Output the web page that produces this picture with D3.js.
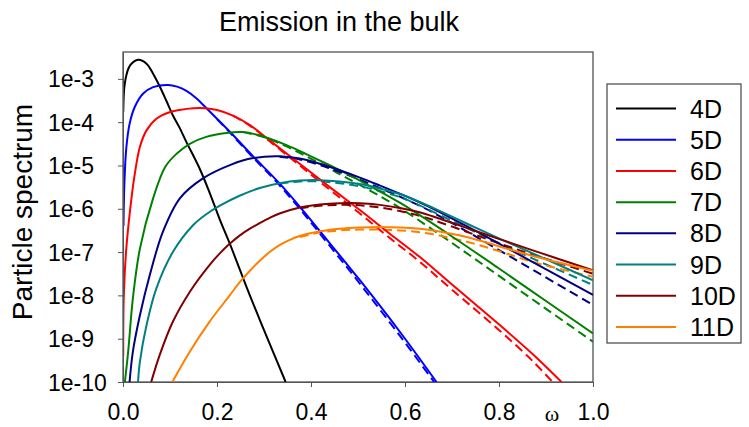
<!DOCTYPE html>
<html>
<head>
<meta charset="utf-8">
<title>Emission in the bulk</title>
<script src="https://d3js.org/d3.v7.min.js"></script>
<style>
  body { margin: 0; background: #fff; }
  text { font-family: "Liberation Sans", Arial, sans-serif; fill: #000; }
  .axis path, .axis line { stroke: #555; }
</style>
</head>
<body>
<svg id="chart" width="749" height="427"></svg>
<script>
// legend names and colours
var dims = ["4D", "5D", "6D", "7D", "8D", "9D", "10D", "11D"];
var colors = ["#000000", "#0000ff", "#ff0000", "#008000", "#000080", "#008080", "#800000", "#ff8000"];

var xTicks = [0, 0.2, 0.4, 0.6, 0.8, 1.0];
var xTickLabels = ["0.0", "0.2", "0.4", "0.6", "0.8", "1.0"];
var yTicks = [1e-10, 1e-9, 1e-8, 1e-7, 1e-6, 1e-5, 1e-4, 1e-3];
var yTickLabels = ["1e-10", "1e-9", "1e-8", "1e-7", "1e-6", "1e-5", "1e-4", "1e-3"];

// omega values and log10(spectrum), solid curves
var w4 = [0.0005, 0.002, 0.004, 0.007, 0.012, 0.018, 0.033, 0.05, 0.064, 0.078, 0.092, 0.106, 0.12, 0.135, 0.163, 0.184, 0.206, 0.227, 0.268, 0.30, 0.346];
var s4 = [-3.77, -3.30, -3.10, -2.92, -2.75, -2.65, -2.56, -2.65, -2.88, -3.17, -3.50, -3.84, -4.12, -4.46, -5.07, -5.62, -6.25, -6.80, -7.95, -8.80, -10];

var w5 = [0.001, 0.003, 0.007, 0.014, 0.025, 0.043, 0.064, 0.096, 0.115, 0.135, 0.156, 0.176, 0.20, 0.23, 0.277, 0.33, 0.38, 0.429, 0.475, 0.504, 0.589, 0.667];
var s5 = [-6.40, -5.40, -4.60, -4.04, -3.65, -3.34, -3.19, -3.14, -3.18, -3.28, -3.45, -3.66, -3.92, -4.25, -4.79, -5.38, -6.00, -6.65, -7.26, -7.65, -8.84, -10];

var w6 = [0.0005, 0.0015, 0.007, 0.018, 0.025, 0.036, 0.05, 0.071, 0.099, 0.12, 0.15, 0.175, 0.20, 0.234, 0.27, 0.312, 0.376, 0.44, 0.504, 0.567, 0.631, 0.70, 0.801, 0.872, 0.933];
var s6 = [-9.40, -8.07, -6.92, -5.76, -5.20, -4.57, -4.19, -3.92, -3.77, -3.72, -3.68, -3.68, -3.72, -3.85, -4.07, -4.42, -4.96, -5.50, -6.03, -6.57, -7.11, -7.75, -8.68, -9.36, -10];

var w7 = [0.004, 0.011, 0.021, 0.036, 0.064, 0.09, 0.114, 0.142, 0.177, 0.22, 0.255, 0.298, 0.348, 0.39, 0.433, 0.461, 0.504, 0.589, 0.70, 0.80, 0.90, 1.0];
var s7 = [-10, -9.30, -8.07, -6.92, -5.76, -5.03, -4.73, -4.50, -4.34, -4.25, -4.23, -4.33, -4.53, -4.74, -4.96, -5.11, -5.35, -5.86, -6.64, -7.38, -8.13, -8.88];

var w8 = [0.014, 0.021, 0.036, 0.057, 0.085, 0.121, 0.17, 0.23, 0.277, 0.333, 0.376, 0.419, 0.461, 0.504, 0.546, 0.589, 0.631, 0.66, 0.731, 0.801, 0.872, 1.0];
var s8 = [-10, -9.30, -8.46, -7.53, -6.53, -5.76, -5.30, -4.98, -4.83, -4.79, -4.84, -4.96, -5.11, -5.28, -5.46, -5.65, -5.85, -6.00, -6.40, -6.81, -7.23, -7.99];

var w9 = [0.032, 0.036, 0.05, 0.071, 0.106, 0.149, 0.178, 0.206, 0.248, 0.291, 0.333, 0.376, 0.419, 0.461, 0.504, 0.546, 0.589, 0.631, 0.66, 0.731, 0.801, 0.872, 1.0];
var s9 = [-10, -9.53, -8.69, -7.84, -7.00, -6.38, -6.12, -5.93, -5.70, -5.52, -5.41, -5.35, -5.34, -5.37, -5.43, -5.53, -5.66, -5.84, -5.98, -6.34, -6.69, -7.03, -7.65];

var w10 = [0.06, 0.078, 0.106, 0.142, 0.184, 0.206, 0.227, 0.248, 0.27, 0.291, 0.312, 0.333, 0.376, 0.419, 0.461, 0.504, 0.546, 0.589, 0.631, 0.66, 0.731, 0.801, 0.872, 1.0];
var s10 = [-10, -9.38, -8.61, -7.92, -7.30, -7.03, -6.81, -6.62, -6.46, -6.33, -6.21, -6.11, -5.97, -5.90, -5.87, -5.87, -5.91, -5.98, -6.08, -6.18, -6.44, -6.70, -6.96, -7.42];

var w11 = [0.105, 0.142, 0.184, 0.227, 0.248, 0.27, 0.291, 0.312, 0.333, 0.355, 0.376, 0.419, 0.461, 0.504, 0.546, 0.589, 0.631, 0.66, 0.731, 0.801, 0.872, 1.0];
var s11 = [-10, -9.30, -8.61, -8.00, -7.70, -7.43, -7.20, -7.00, -6.84, -6.72, -6.63, -6.52, -6.46, -6.43, -6.42, -6.43, -6.46, -6.50, -6.65, -6.87, -7.09, -7.43];

// dashed curves (they sit on the solid ones at low omega)
var dw5 = [0.2, 0.23, 0.277, 0.33, 0.38, 0.429, 0.475, 0.504, 0.589, 0.662];
var d5 = [-3.93, -4.27, -4.82, -5.42, -6.05, -6.71, -7.33, -7.73, -8.93, -10];

var dw6 = [0.234, 0.27, 0.312, 0.376, 0.44, 0.504, 0.567, 0.631, 0.70, 0.801, 0.872, 0.914];
var d6 = [-3.85, -4.08, -4.44, -5.00, -5.56, -6.11, -6.67, -7.22, -7.87, -8.81, -9.52, -10];

var dw7 = [0.255, 0.298, 0.348, 0.39, 0.433, 0.461, 0.504, 0.589, 0.70, 0.80, 0.90, 1.0];
var d7 = [-4.23, -4.34, -4.56, -4.79, -5.03, -5.20, -5.45, -5.98, -6.79, -7.55, -8.31, -9.07];

var dw8 = [0.333, 0.376, 0.419, 0.461, 0.504, 0.546, 0.589, 0.631, 0.66, 0.731, 0.801, 0.872, 1.0];
var d8 = [-4.80, -4.86, -4.99, -5.15, -5.33, -5.52, -5.72, -5.93, -6.09, -6.52, -6.96, -7.41, -8.22];

var dw9 = [0.333, 0.376, 0.419, 0.461, 0.504, 0.546, 0.589, 0.631, 0.66, 0.731, 0.801, 0.872, 1.0];
var d9 = [-5.42, -5.37, -5.37, -5.41, -5.48, -5.59, -5.73, -5.92, -6.07, -6.44, -6.80, -7.15, -7.76];

var dw10 = [0.376, 0.419, 0.461, 0.504, 0.546, 0.589, 0.631, 0.66, 0.731, 0.801, 0.872, 1.0];
var d10 = [-5.99, -5.93, -5.91, -5.92, -5.97, -6.05, -6.16, -6.26, -6.53, -6.80, -7.06, -7.50];

var dw11 = [0.376, 0.419, 0.461, 0.504, 0.546, 0.589, 0.631, 0.66, 0.731, 0.801, 0.872, 1.0];
var d11 = [-6.65, -6.55, -6.50, -6.48, -6.48, -6.50, -6.54, -6.59, -6.76, -6.98, -7.23, -7.57];

var solid = [[w4, s4], [w5, s5], [w6, s6], [w7, s7], [w8, s8], [w9, s9], [w10, s10], [w11, s11]];
var dashed = [null, [dw5, d5], [dw6, d6], [dw7, d7], [dw8, d8], [dw9, d9], [dw10, d10], [dw11, d11]];

var plotL = 123, plotR = 593, plotT = 52, plotB = 382;

var svg = d3.select("#chart");

var x = d3.scaleLinear().domain([0, 1]).range([plotL, plotR]);
var y = d3.scaleLog().domain([1e-10, Math.pow(10, -2.38)]).range([plotB, plotT]);

svg.append("defs").append("clipPath").attr("id", "plot")
  .append("rect")
  .attr("x", plotL).attr("y", plotT)
  .attr("width", plotR - plotL).attr("height", plotB - plotT);

// frame
svg.append("rect")
  .attr("x", plotL).attr("y", plotT)
  .attr("width", plotR - plotL).attr("height", plotB - plotT)
  .attr("fill", "none")
  .attr("stroke", "#444")
  .attr("stroke-width", 1.2);

var line = d3.line()
  .x(function(d) { return x(d[0]); })
  .y(function(d) { return y(Math.pow(10, d[1])); })
  .curve(d3.curveCatmullRom.alpha(0.5));

var lines = svg.append("g").attr("clip-path", "url(#plot)");

dashed.forEach(function(s, i) {
  if (!s) return;
  lines.append("path")
    .attr("d", line(d3.zip(s[0], s[1])))
    .attr("fill", "none")
    .attr("stroke", colors[i])
    .attr("stroke-width", 2)
    .attr("stroke-dasharray", "9,5");
});

solid.forEach(function(s, i) {
  lines.append("path")
    .attr("d", line(d3.zip(s[0], s[1])))
    .attr("fill", "none")
    .attr("stroke", colors[i])
    .attr("stroke-width", 2);
});

// axes
var xAxis = svg.append("g")
  .attr("class", "axis")
  .attr("transform", "translate(0," + plotB + ")")
  .call(d3.axisBottom(x).tickValues(xTicks).tickSize(5).tickSizeOuter(0)
    .tickFormat(function(d, i) { return xTickLabels[i]; }));
xAxis.selectAll("text")
  .attr("y", 22)
  .attr("dy", "0.71em")
  .style("font-size", "23px");

var yAxis = svg.append("g")
  .attr("class", "axis")
  .attr("transform", "translate(" + plotL + ",0)")
  .call(d3.axisLeft(y).tickValues(yTicks).tickSize(5).tickSizeOuter(0)
    .tickFormat(function(d, i) { return yTickLabels[i]; }));
yAxis.selectAll("text")
  .attr("x", -75)
  .attr("dy", "0.35em")
  .attr("text-anchor", "start")
  .style("font-size", "23px");
svg.selectAll(".axis").attr("font-family", null).attr("font-size", null);

svg.append("text")
  .attr("x", 552).attr("y", 421)
  .attr("text-anchor", "middle")
  .style("font-family", "'Liberation Serif', 'Times New Roman', serif")
  .style("font-size", "22px")
  .text("ω");

svg.append("text")
  .attr("x", 219).attr("y", 31)
  .style("font-size", "27px")
  .text("Emission in the bulk");

svg.append("text")
  .attr("transform", "translate(32,212) rotate(-90)")
  .attr("text-anchor", "middle")
  .style("font-size", "28px")
  .text("Particle spectrum");

// legend
var legend = svg.append("g");
legend.append("rect")
  .attr("x", 607).attr("y", 84)
  .attr("width", 134).attr("height", 259)
  .attr("fill", "#fff")
  .attr("stroke", "#444")
  .attr("stroke-width", 1.2);

var rowY = d3.scalePoint().domain(dims).range([108.5, 327]);
dims.forEach(function(name, i) {
  legend.append("line")
    .attr("x1", 616).attr("x2", 676)
    .attr("y1", rowY(name)).attr("y2", rowY(name))
    .attr("stroke", colors[i])
    .attr("stroke-width", 2);
  legend.append("text")
    .attr("x", 690).attr("y", rowY(name))
    .attr("dy", "0.36em")
    .style("font-size", "25px")
    .text(name);
});
</script>
</body>
</html>
